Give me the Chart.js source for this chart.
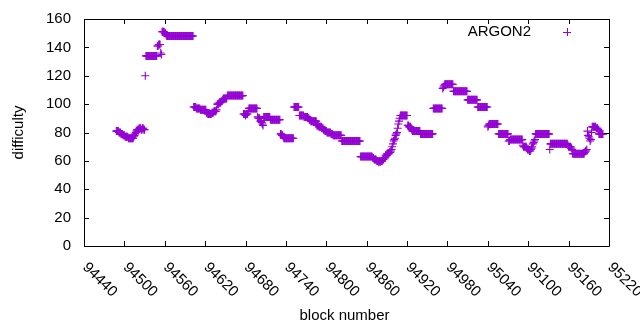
<!DOCTYPE html>
<html>
<head>
<meta charset="utf-8">
<script src="https://cdn.jsdelivr.net/npm/chart.js@4.4.1/dist/chart.umd.min.js"></script>
<style>
  html, body { margin: 0; padding: 0; background: #fff; }
  #wrap { width: 640px; height: 330px; }
</style>
</head>
<body>
<div id="wrap"><canvas id="grafico"></canvas></div>
<script>
const seriesName = 'ARGON2';
const firstBlock = 94488;
const xTicks = [94440, 94500, 94560, 94620, 94680, 94740, 94800, 94860, 94920, 94980, 95040, 95100, 95160, 95220];
const yTicks = [0, 20, 40, 60, 80, 100, 120, 140, 160];

// one value per block, starting at firstBlock
const difficulty = [
  /*94488*/ 81,81,81,81,80,80,80,
  /*94495*/ 79,79,79,78,78,78,77,77,77,77,77,
  /*94506*/ 76,76,76,76,76,76,76,76,
  /*94514*/ 77,78,79,80,81,
  /*94519*/ 82,82,82,83,83,83,82,82,83,83,82,82,
  /*94531*/ 120,
  /*94532*/ 134,134,134,134,134,134,134,134,134,134,134,134,134,134,134,134,134,
  /*94549*/ 141,141,142,142,142,
  /*94554*/ 136,135,
  /*94556*/ 151,151,151,151,150,150,149,
  /*94563*/ 148,148,148,148,148,148,148,148,148,148,
            148,148,148,148,148,148,148,148,148,148,
            148,148,148,148,148,148,148,148,148,148,
            148,148,148,148,148,148,148,148,148,148,
  /*94603*/ 98,98,98,98,97,97,97,97,97,97,
  /*94613*/ 96,96,96,96,96,96,96,96,96,
  /*94622*/ 94,94,93,93,93,93,93,93,94,94,94,
  /*94633*/ 95,95,95,95,96,
  /*94638*/ 100,100,100,101,101,101,102,102,103,
  /*94647*/ 104,104,104,104,104,104,
  /*94653*/ 106,106,106,106,106,106,106,106,106,106,
            106,106,106,106,106,106,106,106,106,106,
            106,106,106,106,
  /*94677*/ 93,93,93,92,93,93,93,95,
  /*94685*/ 97,97,97,97,97,97,97,97,97,97,97,97,97,
  /*94698*/ 91,90,90,90,
  /*94702*/ 88,88,87,86,85,
  /*94707*/ 91,91,91,91,91,91,91,91,91,91,
  /*94717*/ 89,89,89,89,89,89,89,89,89,89,89,89,89,89,89,
  /*94732*/ 79,79,78,78,77,
  /*94737*/ 76,76,76,76,76,76,76,76,76,76,76,76,76,76,76,
  /*94752*/ 98,98,98,98,98,98,98,98,
  /*94760*/ 92,92,92,92,92,92,92,91,91,91,91,91,91,90,90,89,89,
  /*94777*/ 88,88,88,88,88,88,88,88,88,
  /*94786*/ 85,85,85,84,84,84,84,84,83,83,82,82,
  /*94798*/ 81,81,81,80,80,80,80,80,80,79,79,79,
  /*94810*/ 78,78,78,78,78,78,78,78,78,78,78,78,78,
  /*94823*/ 74,74,74,74,74,74,74,74,74,74,
            74,74,74,74,74,74,74,74,74,74,
            74,74,74,74,74,74,74,74,
  /*94851*/ 63,63,63,63,63,63,63,63,63,63,63,63,63,63,63,63,63,63,
  /*94869*/ 62,62,61,61,61,61,60,
  /*94876*/ 60,60,59,60,59,60,60,60,
  /*94884*/ 61,61,62,62,
  /*94888*/ 64,64,65,65,65,65,66,66,67,68,70,
  /*94899*/ 72,74,75,76,
  /*94903*/ 78,79,80,83,
  /*94907*/ 86,88,90,
  /*94910*/ 92,92,92,92,92,92,92,92,92,92,92,
  /*94921*/ 85,85,84,84,84,83,82,
  /*94928*/ 81,81,81,81,81,81,81,81,81,81,81,81,
  /*94940*/ 79,79,79,79,79,79,79,79,79,79,79,79,79,79,79,79,79,79,79,
  /*94959*/ 97,97,97,97,97,97,97,97,97,97,97,97,97,97,
  /*94973*/ 111,112,113,
  /*94976*/ 114,114,114,114,114,114,114,114,114,114,114,114,114,
  /*94989*/ 109,109,109,109,109,109,109,109,109,109,
            109,109,109,109,109,109,109,109,109,109,109,
  /*95010*/ 103,103,103,103,103,103,103,103,103,103,103,103,103,103,103,
  /*95025*/ 98,98,98,98,98,98,98,98,98,98,98,98,98,98,98,
  /*95040*/ 84,85,86,86,86,86,86,86,86,86,86,86,86,86,86,86,
  /*95056*/ 79,79,79,79,79,79,79,79,79,79,79,79,79,79,79,
  /*95071*/ 74,74,75,75,
  /*95075*/ 75,75,75,75,75,75,75,75,75,75,75,75,75,75,75,75,75,
  /*95092*/ 71,70,70,70,70,70,69,
  /*95099*/ 68,68,68,67,67,68,69,70,
  /*95107*/ 72,73,74,75,
  /*95111*/ 79,79,79,79,79,79,79,79,79,79,
            79,79,79,79,79,79,79,79,79,79,79,
  /*95132*/ 68,
  /*95133*/ 72,72,72,72,72,72,72,72,72,72,
            72,72,72,72,72,72,72,72,72,72,
            72,72,72,72,72,72,
  /*95159*/ 71,70,70,70,70,69,68,
  /*95166*/ 65,65,65,65,65,65,65,65,65,65,65,65,65,65,65,65,65,65,
  /*95184*/ 66,67,67,68,
  /*95188*/ 81,78,77,76,
  /*95192*/ 74,75,80,
  /*95195*/ 84,84,84,84,84,84,83,83,83,82,
  /*95205*/ 79,79,79,79,79,79,79
];

const corPonto = '#9400D3';
const fonte = '15px "Liberation Sans", Arial, sans-serif';

const pontos = difficulty.map((d, i) => ({ x: firstBlock + i, y: d }));

// gnuplot-like frame, inward tics, rotated x labels, key
const moldura = {
  id: 'moldura',
  afterDraw(chart) {
    const { ctx, chartArea: a, scales: { x, y } } = chart;
    ctx.save();
    ctx.strokeStyle = '#000';
    ctx.lineWidth = 1;
    ctx.beginPath();
    ctx.rect(Math.round(a.left) + 0.5, Math.round(a.top) + 0.5,
             Math.round(a.right - a.left), Math.round(a.bottom - a.top));
    const tl = 5;
    xTicks.forEach(v => {
      const px = Math.round(x.getPixelForValue(v)) + 0.5;
      ctx.moveTo(px, a.bottom); ctx.lineTo(px, a.bottom - tl);
      ctx.moveTo(px, a.top); ctx.lineTo(px, a.top + tl);
    });
    yTicks.forEach(v => {
      const py = Math.round(y.getPixelForValue(v)) + 0.5;
      ctx.moveTo(a.left, py); ctx.lineTo(a.left + tl, py);
      ctx.moveTo(a.right, py); ctx.lineTo(a.right - tl, py);
    });
    ctx.stroke();

    ctx.fillStyle = '#000';
    ctx.font = fonte;
    ctx.textAlign = 'right';
    ctx.textBaseline = 'middle';
    yTicks.forEach(v => ctx.fillText(String(v), a.left - 13, y.getPixelForValue(v)));

    ctx.textAlign = 'left';
    xTicks.forEach(v => {
      ctx.save();
      ctx.translate(x.getPixelForValue(v) + 1, a.bottom + 19);
      ctx.rotate(Math.PI / 4);
      ctx.fillText(String(v), 0, 0);
      ctx.restore();
    });

    ctx.textAlign = 'center';
    ctx.fillText('block number', (a.left + a.right) / 2 - 2, 316);
    ctx.save();
    ctx.translate(19, (a.top + a.bottom) / 2);
    ctx.rotate(-Math.PI / 2);
    ctx.fillText('difficulty', 0, 0);
    ctx.restore();

    // key
    ctx.textAlign = 'right';
    ctx.fillText(seriesName, 531, 32);
    ctx.strokeStyle = corPonto;
    ctx.beginPath();
    ctx.moveTo(563, 32.5); ctx.lineTo(571, 32.5);
    ctx.moveTo(567.5, 28); ctx.lineTo(567.5, 36);
    ctx.stroke();
    ctx.restore();
  }
};

const grafico = new Chart(document.getElementById('grafico'), {
  type: 'scatter',
  data: {
    datasets: [{
      label: seriesName,
      data: pontos,
      pointStyle: 'cross',
      pointRadius: 4,
      pointHoverRadius: 4,
      pointBorderWidth: 1.1,
      borderColor: corPonto,
      backgroundColor: corPonto,
      showLine: false
    }]
  },
  options: {
    responsive: true,
    maintainAspectRatio: false,
    animation: false,
    events: [],
    layout: { padding: { left: 84, right: 31, top: 19, bottom: 84 } },
    plugins: { legend: { display: false }, tooltip: { enabled: false } },
    scales: {
      x: { type: 'linear', display: false, min: 94440, max: 95220 },
      y: { display: false, min: 0, max: 160 }
    }
  },
  plugins: [moldura]
});
</script>
</body>
</html>
